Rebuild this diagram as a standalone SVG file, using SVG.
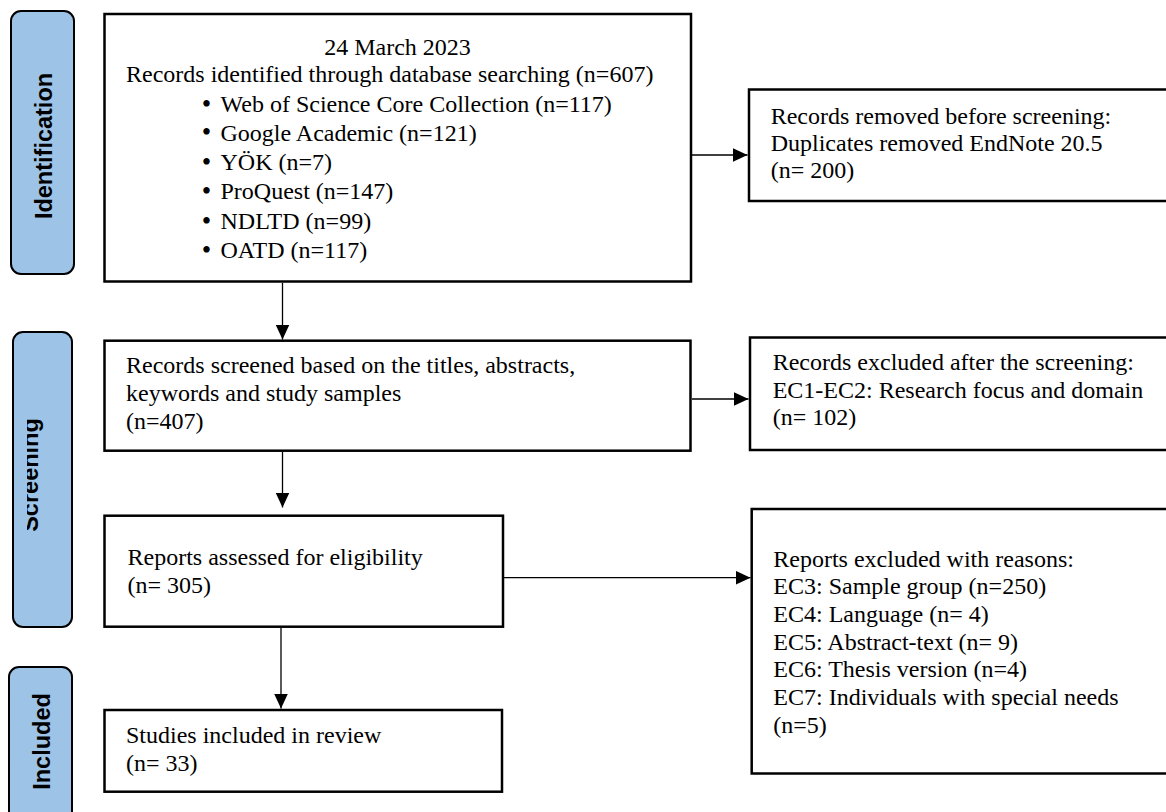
<svg xmlns="http://www.w3.org/2000/svg" width="1166" height="812" viewBox="0 0 1166 812">
<style>
.side{fill:#9DC3E6;stroke:#000;stroke-width:2}
.sidet{font-family:"Liberation Sans",Arial,sans-serif;font-weight:bold;font-size:23.5px;fill:#000}
.box{fill:#fff;stroke:#000;stroke-width:2.5}
.t{font-family:"Liberation Serif","Times New Roman",serif;font-size:24px;fill:#000}
.b{font-family:"Liberation Serif","Times New Roman",serif;font-size:27px;fill:#000}
.ln{stroke:#000;stroke-width:1.3;fill:none}
</style>
<defs>
<marker id="ah" markerUnits="userSpaceOnUse" markerWidth="16" markerHeight="14" refX="15" refY="7" orient="auto">
<path d="M0,0 L15,7 L0,14 z" fill="#000"/>
</marker>
<clipPath id="scrclip"><rect x="27" y="330" width="45" height="300"/></clipPath>
</defs>
<rect width="1166" height="812" fill="#fff"/>

<g id="side-identification">
<rect class="side" x="11" y="11" width="63" height="263" rx="10"/>
<text class="sidet" x="51.5" y="146" text-anchor="middle" transform="rotate(-90 51.5 146)">Identification</text>
</g>
<g id="side-screening">
<rect class="side" x="13" y="332" width="59" height="295" rx="10"/>
<g clip-path="url(#scrclip)">
<text class="sidet" x="38" y="475" text-anchor="middle" transform="rotate(-90 38 475)">Screening</text>
</g>
</g>
<g id="side-included">
<rect class="side" x="9" y="667" width="63" height="170" rx="10"/>
<text class="sidet" x="50" y="741.5" text-anchor="middle" transform="rotate(-90 50 741.5)">Included</text>
</g>

<g id="node-identified">
<rect class="box" x="104.5" y="14" width="586.5" height="267.5"/>
<text class="t" x="397.5" y="55" text-anchor="middle">24 March 2023</text>
<text class="t" x="126" y="81.7">Records identified through database searching (n=607)</text>
<text class="b" x="206.4" y="112.5" text-anchor="middle">•</text>
<text class="t" x="220.5" y="111.7">Web of Science Core Collection (n=117)</text>
<text class="b" x="206.4" y="141.3" text-anchor="middle">•</text>
<text class="t" x="220.5" y="140.5">Google Academic (n=121)</text>
<text class="b" x="206.4" y="170.8" text-anchor="middle">•</text>
<text class="t" x="220.5" y="170">YÖK (n=7)</text>
<text class="b" x="206.4" y="200.1" text-anchor="middle">•</text>
<text class="t" x="220.5" y="199.3">ProQuest (n=147)</text>
<text class="b" x="206.4" y="229.8" text-anchor="middle">•</text>
<text class="t" x="220.5" y="229">NDLTD (n=99)</text>
<text class="b" x="206.4" y="259.1" text-anchor="middle">•</text>
<text class="t" x="220.5" y="258.3">OATD (n=117)</text>
</g>

<g id="node-removed">
<rect class="box" x="749" y="89.5" width="440" height="111.5"/>
<text class="t" x="770.7" y="124">Records removed before screening:</text>
<text class="t" x="770.7" y="151">Duplicates removed EndNote 20.5</text>
<text class="t" x="770.7" y="178">(n= 200)</text>
</g>

<g id="node-screened">
<rect class="box" x="104.5" y="340.7" width="586" height="110"/>
<text class="t" x="126" y="373.3">Records screened based on the titles, abstracts,</text>
<text class="t" x="126" y="400.5">keywords and study samples</text>
<text class="t" x="126" y="428.5">(n=407)</text>
</g>

<g id="node-excluded-screening">
<rect class="box" x="750" y="337.5" width="440" height="112.5"/>
<text class="t" x="772.7" y="370">Records excluded after the screening:</text>
<text class="t" x="772.7" y="397.7">EC1-EC2: Research focus and domain</text>
<text class="t" x="772.7" y="425">(n= 102)</text>
</g>

<g id="node-assessed">
<rect class="box" x="104.5" y="515.7" width="398.5" height="111"/>
<text class="t" x="127.5" y="565">Reports assessed for eligibility</text>
<text class="t" x="127.5" y="593.3">(n= 305)</text>
</g>

<g id="node-excluded-reasons">
<rect class="box" x="751.7" y="509" width="440" height="264.5"/>
<text class="t" x="773.3" y="566.7">Reports excluded with reasons:</text>
<text class="t" x="773.3" y="594.3">EC3: Sample group (n=250)</text>
<text class="t" x="773.3" y="622">EC4: Language (n= 4)</text>
<text class="t" x="773.3" y="649.7">EC5: Abstract-text (n= 9)</text>
<text class="t" x="773.3" y="677.3">EC6: Thesis version (n=4)</text>
<text class="t" x="773.3" y="705">EC7: Individuals with special needs</text>
<text class="t" x="773.3" y="732.7">(n=5)</text>
</g>

<g id="node-included">
<rect class="box" x="104.5" y="710" width="397.5" height="81.7"/>
<text class="t" x="126" y="742.7">Studies included in review</text>
<text class="t" x="126" y="770.7">(n= 33)</text>
</g>

<g id="connectors">
<line class="ln" x1="282.5" y1="282.8" x2="282.5" y2="339.5" marker-end="url(#ah)"/>
<line class="ln" x1="282.5" y1="452" x2="282.5" y2="507.5" marker-end="url(#ah)"/>
<line class="ln" x1="281" y1="628" x2="281" y2="708.5" marker-end="url(#ah)"/>
<line class="ln" x1="692" y1="155" x2="747.5" y2="155" marker-end="url(#ah)"/>
<line class="ln" x1="692" y1="399" x2="748.5" y2="399" marker-end="url(#ah)"/>
<line class="ln" x1="504" y1="577.7" x2="750.5" y2="577.7" marker-end="url(#ah)"/>
</g>
</svg>
